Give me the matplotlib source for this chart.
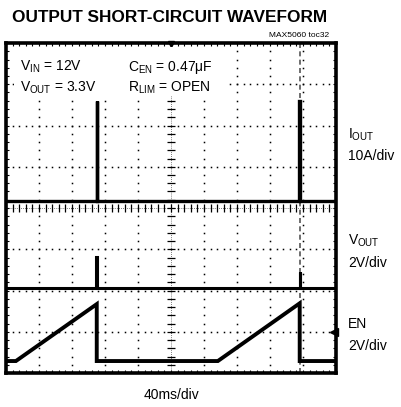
import numpy as np
import matplotlib
matplotlib.use("Agg")
import matplotlib.pyplot as plt
from matplotlib.patches import Rectangle

plt.rcParams['font.family'] = ['Liberation Sans', 'DejaVu Sans']
plt.rcParams['mathtext.fontset'] = 'custom'
plt.rcParams['mathtext.rm'] = 'Liberation Sans'
plt.rcParams['mathtext.it'] = 'Liberation Sans'

# traces in screen divisions (x: 0..10, y: 0..8)
iout_x = [0, 2.75, 2.75, 2.77, 2.77, 8.88, 8.88, 8.91, 8.91, 10]
iout_y = [4.17, 4.17, 6.6, 6.6, 4.17, 4.17, 6.6, 6.6, 4.17, 4.17]

vout_x = [0, 2.74, 2.74, 2.76, 2.76, 8.9, 8.9, 8.92, 8.92, 10]
vout_y = [2.07, 2.07, 2.82, 2.82, 2.07, 2.07, 2.45, 2.45, 2.07, 2.07]

en_x = [0, 0.3, 2.75, 2.75, 6.42, 8.9, 8.9, 10]
en_y = [0.29, 0.29, 1.67, 0.29, 0.29, 1.69, 0.29, 0.29]

W, H = 401, 407
fig = plt.figure(figsize=(W / 100, H / 100), dpi=100)
ax = fig.add_axes([6 / W, (H - 373) / H, 330 / W, 330 / H])
ax.set_xlim(0, 10)
ax.set_ylim(0, 8)
ax.set_xticks([])
ax.set_yticks([])
for s in ax.spines.values():
    s.set_linewidth(2.6)

# graticule dots
sub_x = np.arange(0, 10.01, 0.2)
sub_y = np.arange(0, 8.01, 0.2)
for gx in range(1, 10):
    if gx == 5:
        continue
    ax.plot(np.full_like(sub_y, gx), sub_y, ls='none', marker='s', ms=1.1, color='black', mew=0)
for gy in range(1, 8):
    if gy == 4:
        continue
    ax.plot(sub_x, np.full_like(sub_x, gy), ls='none', marker='s', ms=1.1, color='black', mew=0)
# center axes with ticks
ax.plot(np.full_like(sub_y, 5), sub_y, ls='none', marker='_', ms=6, mew=0.9, color='black')
ax.plot(sub_x, np.full_like(sub_x, 4), ls='none', marker='|', ms=6, mew=0.9, color='black')
ax.plot([5, 5], [0, 8], color='black', lw=0.5, ls=(0, (1, 2)))
ax.plot([0, 10], [4, 4], color='black', lw=0.5, ls=(0, (1, 2)))
# edge ticks
ax.plot(sub_x, np.full_like(sub_x, 8), ls='none', marker='|', ms=5, mew=0.8, color='black')
ax.plot(sub_x, np.full_like(sub_x, 0), ls='none', marker='|', ms=5, mew=0.8, color='black')
ax.plot(np.full_like(sub_y, 0), sub_y, ls='none', marker='_', ms=5, mew=0.8, color='black')
ax.plot(np.full_like(sub_y, 10), sub_y, ls='none', marker='_', ms=5, mew=0.8, color='black')

# blank area behind the condition labels
ax.add_patch(Rectangle((0.25, 6.72), 6.45, 1.18, facecolor='white', edgecolor='none', zorder=3))

# faint trace of the fast edge
ax.plot([8.91, 8.91], [0, 8], color='#555555', lw=1.2, ls=(0, (3, 2)))

ax.plot(iout_x, iout_y, color='black', lw=2.4, solid_joinstyle='miter', zorder=4)
ax.plot(vout_x, vout_y, color='black', lw=2.2, solid_joinstyle='miter', zorder=4)
ax.plot(en_x, en_y, color='black', lw=2.8, solid_joinstyle='miter', zorder=4)

# markers
ax.plot([5], [7.97], marker='v', ms=5, color='black', clip_on=False)
ax.plot([9.95], [1.0], marker='<', ms=6, color='black', clip_on=False)


def ftext(x, y, s, **kw):
    fig.text(x / W, 1 - y / H, s, **kw)


ftext(170, 22, 'OUTPUT SHORT-CIRCUIT WAVEFORM', ha='center', va='baseline',
      fontsize=12.4, fontweight='bold')
ftext(329, 37, 'MAX5060 toc32', ha='right', va='baseline', fontsize=6)

fs = 10
ftext(20, 71, r'$\mathrm{V_{IN}}$ = 12V', fontsize=fs, va='baseline', zorder=5)
ftext(20, 92, r'$\mathrm{V_{OUT}}$ = 3.3V', fontsize=fs, va='baseline', zorder=5)
ftext(128, 71, r'$\mathrm{C_{EN}}$ = 0.47μF', fontsize=fs, va='baseline', zorder=5)
ftext(128, 92, r'$\mathrm{R_{LIM}}$ = OPEN', fontsize=fs, va='baseline', zorder=5)

ftext(348, 139, r'$\mathrm{I_{OUT}}$', fontsize=fs, va='baseline')
ftext(348, 160, '10A/div', fontsize=fs, va='baseline')
ftext(348, 245, r'$\mathrm{V_{OUT}}$', fontsize=fs, va='baseline')
ftext(348, 267, '2V/div', fontsize=fs, va='baseline')
ftext(348, 328, 'EN', fontsize=fs, va='baseline')
ftext(348, 350, '2V/div', fontsize=fs, va='baseline')
ftext(171, 399, '40ms/div', fontsize=fs, va='baseline', ha='center')

fig.savefig('out.png', dpi=100)
